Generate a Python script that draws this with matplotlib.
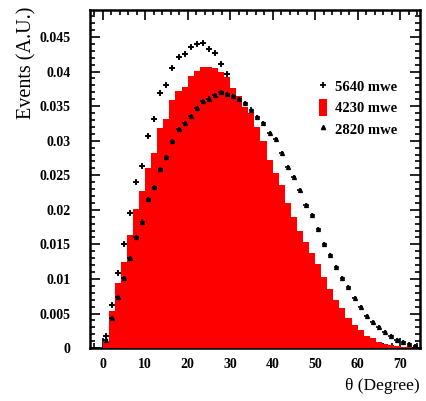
import numpy as np
import matplotlib
matplotlib.use('Agg')
import matplotlib.pyplot as plt
from matplotlib.patches import Patch
from matplotlib.lines import Line2D
from matplotlib.ticker import MultipleLocator

plt.rcParams['font.family'] = ['Liberation Serif', 'DejaVu Serif']
plt.rcParams['font.weight'] = 'bold'

# binning: 63 bins over 0-90 degrees
bin_width = 90.0 / 63

# 4230 mwe histogram (red), one value per bin starting at 0
h4230 = [0.0009, 0.0053, 0.0094, 0.0125, 0.0163, 0.0201, 0.0227, 0.0261, 0.0282, 0.0319,
         0.0331, 0.0359, 0.0372, 0.0378, 0.0393, 0.0401, 0.0406, 0.0407, 0.0405, 0.0400,
         0.0392, 0.0376, 0.0364, 0.0349, 0.0340, 0.0320, 0.0300, 0.0272, 0.0253, 0.0236,
         0.0210, 0.0190, 0.0170, 0.0153, 0.0138, 0.0121, 0.0103, 0.0085, 0.0070, 0.0058,
         0.0044, 0.0034, 0.0026, 0.0018, 0.0014, 0.0009, 0.0006, 0.0004, 0.0003, 0.0002,
         0.0001]

# 5640 mwe points (visible part, rest hidden under the red histogram)
p5640 = [0.0017, 0.0062, 0.0108, 0.0150, 0.0195, 0.0240, 0.0263, 0.0307, 0.0332, 0.0369,
         0.0380, 0.0405, 0.0421, 0.0426, 0.0435, 0.0440, 0.0441, 0.0432, 0.0427, 0.0411,
         0.0396]

# 2820 mwe points
p2820 = [0.0011, 0.0043, 0.0074, 0.0101, 0.0130, 0.0161, 0.0183, 0.0216, 0.0233, 0.0259,
         0.0277, 0.0299, 0.0317, 0.0326, 0.0335, 0.0347, 0.0358, 0.0361, 0.0366, 0.0371,
         0.0368, 0.0364, 0.0360, 0.0355, 0.0345, 0.0334, 0.0325, 0.0311, 0.0303, 0.0282,
         0.0262, 0.0248, 0.0229, 0.0207, 0.0193, 0.0172, 0.0151, 0.0134, 0.0117, 0.0101,
         0.0088, 0.0072, 0.0059, 0.0047, 0.0038, 0.0030, 0.0023, 0.0017, 0.0012, 0.0009,
         0.0006, 0.0003]

edges = np.arange(len(h4230) + 1) * bin_width
c5640 = (np.arange(len(p5640)) + 0.5) * bin_width
c2820 = (np.arange(len(p2820)) + 0.5) * bin_width

fig = plt.figure(figsize=(4.26, 4.01), dpi=100)
ax = fig.add_axes([0.211, 0.132, 0.775, 0.843])

err_kw = dict(ls='none', color='black', ecolor='black', elinewidth=1.2, capsize=0)
ax.errorbar(c5640, p5640, xerr=0.6, yerr=0.0003, marker='+', ms=4, mew=1.3, zorder=2, **err_kw)
ax.stairs(h4230, edges, fill=True, color='#ff0000', lw=0, zorder=3)
ax.errorbar(c2820, p2820, xerr=0.6, yerr=0.0003, marker='^', ms=2.8, zorder=4, **err_kw)

ax.set_xlim(-3, 74.7)
ax.set_ylim(0, 0.0489)
ax.xaxis.set_major_locator(MultipleLocator(10))
ax.xaxis.set_minor_locator(MultipleLocator(2))
ax.yaxis.set_major_locator(MultipleLocator(0.005))
ax.yaxis.set_minor_locator(MultipleLocator(0.001))
ax.yaxis.set_major_formatter(plt.FuncFormatter(lambda v, p: '0' if abs(v) < 1e-9 else f'{v:g}'))
ax.tick_params(which='both', direction='in', top=True, right=True, width=1.2, labelsize=10)
ax.tick_params(which='major', length=7)
ax.tick_params(which='minor', length=3.5)
ax.tick_params(axis='y', pad=14)
ax.tick_params(axis='x', pad=7)
for s in ax.spines.values():
    s.set_linewidth(1.8)

ax.set_xlabel('θ (Degree)', fontsize=12.5, loc='right')
ax.xaxis.set_label_coords(1.0, -0.09)
ax.set_ylabel('Events (A.U.)', fontsize=14.5, loc='top')
ax.yaxis.set_label_coords(-0.162, 1.01)

handles = [Line2D([], [], ls='none', marker='+', color='black', ms=4, mew=1.3),
           Patch(facecolor='#ff0000', edgecolor='none'),
           Line2D([], [], ls='none', marker='^', color='black', ms=3)]
ax.legend(handles, ['5640 mwe', '4230 mwe', '2820 mwe'], loc='upper left',
          bbox_to_anchor=(0.655, 0.838), frameon=False, fontsize=10.5,
          handlelength=0.5, handleheight=1.4, handletextpad=0.6, labelspacing=0.3)

fig.savefig('out.png', dpi=100)
